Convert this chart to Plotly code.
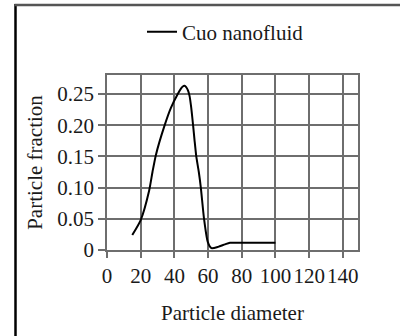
import plotly.graph_objects as go

# Data
diameter = [15, 20, 25, 27, 29, 34, 38, 42, 44, 45, 46, 47, 48, 49, 50, 51.1, 52,
            53, 54.5, 55.7, 57.6, 59.8, 62, 66, 70, 73, 80, 90, 100]
fraction = [0.024, 0.048, 0.095, 0.125, 0.152, 0.198, 0.228, 0.250, 0.259, 0.262,
            0.263, 0.261, 0.256, 0.247, 0.228, 0.200, 0.175, 0.150, 0.125, 0.100,
            0.050, 0.013, 0.003, 0.005, 0.009, 0.0115, 0.0115, 0.0115, 0.0115]
series_name = "Cuo nanofluid"
x_ticks = [0, 20, 40, 60, 80, 100, 120, 140]
y_ticks = [0, 0.05, 0.10, 0.15, 0.20, 0.25]
y_tick_text = ["0", "0.05", "0.10", "0.15", "0.20", "0.25"]

W, H = 400, 336
L, R, T, B = 107, 42, 75, 86
pw, ph = W - L - R, H - T - B

def px(x):
    return (x - L) / pw

def py(y):
    return (H - B - y) / ph

FONT = "Liberation Serif, Times New Roman, serif"
GRID = "#6e6e6e"
FS = 21

fig = go.Figure()
fig.add_trace(go.Scatter(
    x=diameter, y=fraction, mode="lines", name=series_name,
    line=dict(color="black", width=2, shape="spline", smoothing=0.6),
    showlegend=True,
))

fig.update_layout(
    width=W, height=H,
    margin=dict(l=L, r=R, t=T, b=B, pad=0),
    paper_bgcolor="white", plot_bgcolor="white",
    font=dict(family=FONT, size=FS, color="#1a1a1a"),
    showlegend=True,
    legend=dict(x=px(142), y=py(32), xanchor="left", yanchor="middle",
                bgcolor="rgba(0,0,0,0)", font=dict(size=FS, family=FONT),
                itemwidth=30, borderwidth=0),
    xaxis=dict(
        range=[0, 149], tickvals=x_ticks, ticktext=[str(v) for v in x_ticks],
        tickangle=0,
        showgrid=True, gridcolor=GRID, gridwidth=1.6,
        showline=True, linecolor=GRID, linewidth=1.6, mirror=True,
        ticks="outside", ticklen=6, tickcolor=GRID, tickwidth=1.6,
        zeroline=False, automargin=False,
        title=dict(text="Particle diameter", standoff=18, font=dict(size=FS)),
        tickfont=dict(size=FS),
    ),
    yaxis=dict(
        range=[0, 0.2804], tickvals=y_ticks, ticktext=y_tick_text,
        showgrid=True, gridcolor=GRID, gridwidth=1.6,
        showline=True, linecolor=GRID, linewidth=1.6, mirror=True,
        ticks="outside", ticklen=7, tickcolor=GRID, tickwidth=1.6,
        zeroline=False, automargin=False,
        title=dict(text="Particle fraction", standoff=9, font=dict(size=FS)),
        tickfont=dict(size=FS),
    ),
    shapes=[
        dict(type="line", xref="paper", yref="paper",
             x0=px(15.5), x1=px(15.5), y0=py(4), y1=py(336),
             line=dict(color="black", width=2.5)),
        dict(type="line", xref="paper", yref="paper",
             x0=px(14.5), x1=px(400), y0=py(5), y1=py(5),
             line=dict(color="#555555", width=2.5)),
    ],
)

fig.write_html("out.html", config={"displayModeBar": False},
               post_script="document.body.style.margin='0px';")
